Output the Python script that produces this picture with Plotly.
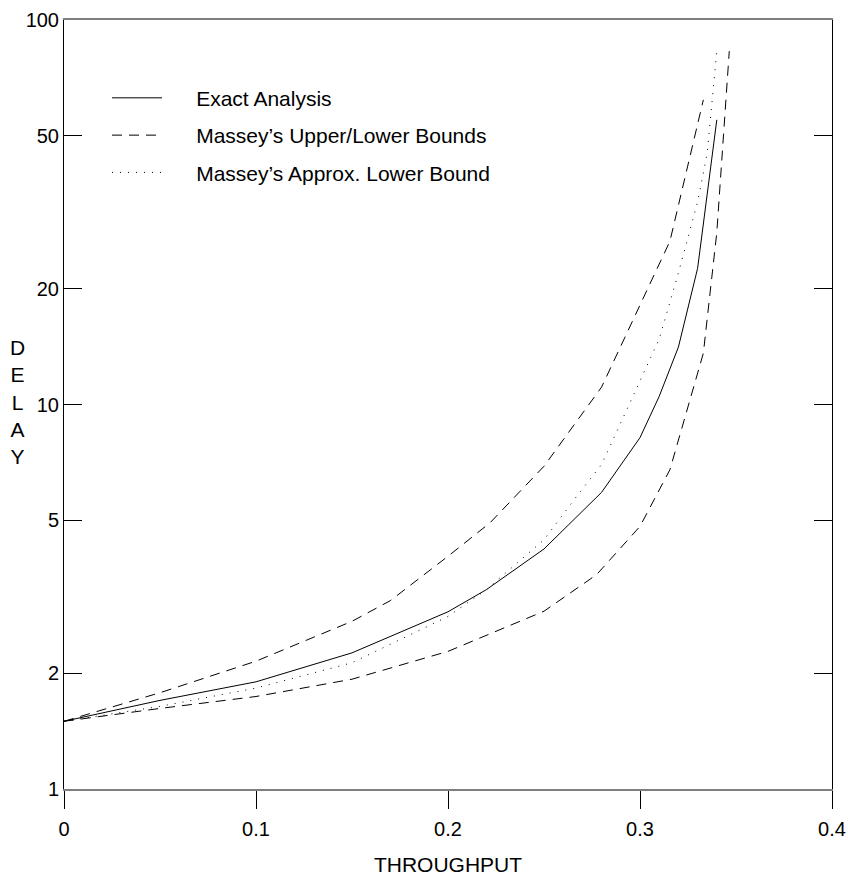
import plotly.graph_objects as go

# ---- data ----
exact_x = [0, 0.05, 0.1, 0.15, 0.2, 0.22, 0.25, 0.28, 0.3, 0.31, 0.32, 0.33, 0.34]
exact_y = [1.5, 1.70, 1.90, 2.26, 2.89, 3.30, 4.21, 5.91, 8.2, 10.5, 14.1, 22.6, 55]

upper_x = [0, 0.05, 0.1, 0.15, 0.17, 0.2, 0.222, 0.25, 0.28, 0.3156, 0.333]
upper_y = [1.5, 1.78, 2.15, 2.73, 3.09, 4.03, 4.93, 6.91, 11.1, 26.6, 62]

lower_x = [0, 0.05, 0.1, 0.15, 0.2, 0.25, 0.2774, 0.3, 0.3156, 0.333, 0.34, 0.3465]
lower_y = [1.5, 1.62, 1.74, 1.93, 2.28, 2.90, 3.61, 4.82, 6.77, 13.6, 28, 83]

approx_x = [0, 0.05, 0.1, 0.15, 0.2, 0.22, 0.25, 0.2677, 0.28, 0.3, 0.31, 0.32, 0.33, 0.335, 0.34]
approx_y = [1.5, 1.64, 1.83, 2.13, 2.81, 3.3, 4.45, 5.83, 6.98, 11.5, 14.8, 22, 33.6, 45, 83]

x_ticks = [0, 0.1, 0.2, 0.3, 0.4]
x_ticktext = ["0", "0.1", "0.2", "0.3", "0.4"]
y_ticks = [1, 2, 5, 10, 20, 50, 100]
y_ticktext = ["1", "2", "5", "10", "20", "50", "100"]

names = ["Exact Analysis", "Massey\u2019s Upper/Lower Bounds", "Massey\u2019s Approx. Lower Bound"]

FONT = "Liberation Sans, Arial, Helvetica, sans-serif"
PAD = "\u00a0" * 5  # gap between legend sample and its label

fig = go.Figure()
fig.add_trace(go.Scatter(x=exact_x, y=exact_y, mode="lines", name=PAD + names[0],
                         legendgroup="a",
                         line=dict(color="black", width=1)))
fig.add_trace(go.Scatter(x=upper_x, y=upper_y, mode="lines", name=PAD + names[1],
                         legendgroup="b",
                         line=dict(color="black", width=1, dash="10px,7px")))
fig.add_trace(go.Scatter(x=lower_x, y=lower_y, mode="lines", name=PAD + names[1],
                         legendgroup="b", showlegend=False,
                         line=dict(color="black", width=1, dash="10px,7px")))
fig.add_trace(go.Scatter(x=approx_x, y=approx_y, mode="lines", name=PAD + names[2],
                         legendgroup="c",
                         line=dict(color="black", width=1, dash="1px,7px")))

fig.update_layout(
    width=848, height=876,
    margin=dict(l=64, r=16, t=20, b=87),
    paper_bgcolor="white", plot_bgcolor="white",
    font=dict(family=FONT, size=20, color="black"),
    showlegend=True,
    legend=dict(x=0.056, y=0.925, xanchor="left", yanchor="top",
                bgcolor="rgba(0,0,0,0)", borderwidth=0,
                font=dict(size=21), itemwidth=50, tracegroupgap=7),
    xaxis=dict(range=[0, 0.4], tickvals=x_ticks, ticktext=x_ticktext,
               showgrid=False, zeroline=False,
               showline=True, linecolor="#7f7f7f", linewidth=2, mirror=True,
               ticks="outside", ticklen=18, tickwidth=1, tickcolor="black",
               ticklabelstandoff=3, tickfont=dict(size=20),
               title=dict(text="THROUGHPUT", font=dict(size=21), standoff=20),
               automargin=False),
    yaxis=dict(type="log", range=[0, 2], tickvals=y_ticks, ticktext=y_ticktext,
               showgrid=False, zeroline=False,
               showline=True, linecolor="black", linewidth=1, mirror="ticks",
               ticks="inside", ticklen=18, tickwidth=1, tickcolor="black",
               tickfont=dict(size=20),
               automargin=False),
    annotations=[dict(text="D<br>E<br>L<br>A<br>Y", xref="paper", yref="paper",
                      x=-0.06, y=0.503, xanchor="center", yanchor="middle",
                      showarrow=False, font=dict(size=21), align="center")],
)

fig.write_html("out.html", config={"displayModeBar": False})

# remove the browser's default body margin so the figure sits at the page origin
with open("out.html", "r", encoding="utf-8") as f:
    html = f.read()
html = html.replace("<body>", '<body style="margin:0;padding:0;">', 1)
with open("out.html", "w", encoding="utf-8") as f:
    f.write(html)
